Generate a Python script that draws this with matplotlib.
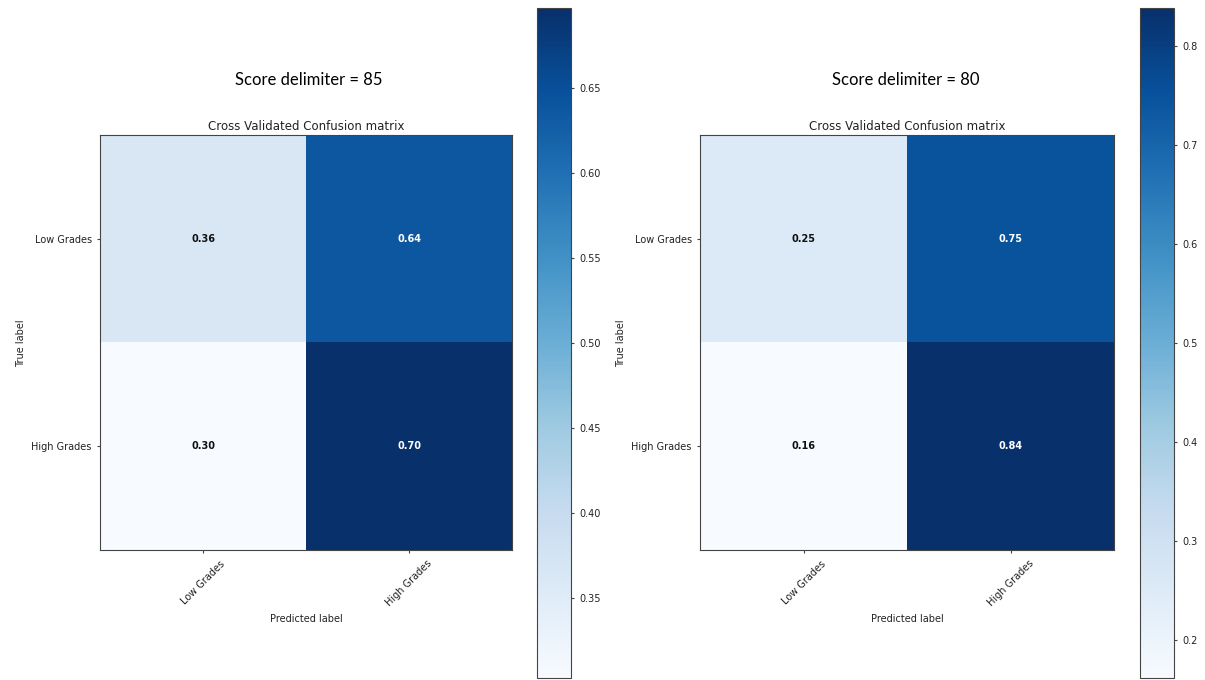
import matplotlib
matplotlib.use("Agg")
import matplotlib.pyplot as plt
import numpy as np

classes = ["Low Grades", "High Grades"]
delimiters = [85, 80]
# normalised confusion matrices (rows sum to 1), shown rounded to 2 decimals
cm_85 = np.array([[0.362, 0.638],
                  [0.303, 0.697]])
cm_80 = np.array([[0.252, 0.748],
                  [0.162, 0.838]])
matrices = [cm_85, cm_80]

fig = plt.figure(figsize=(12.05, 6.8), dpi=100)

ax_pos = [[0.083, 0.191, 0.342, 0.610], [0.581, 0.191, 0.3436, 0.610]]
cb_pos = [[0.4456, 0.003, 0.028, 0.985], [0.946, 0.003, 0.028, 0.985]]
title_x = [0.256, 0.752]
edge = "#444444"

for k in range(2):
    cm = matrices[k]
    ax = fig.add_axes(ax_pos[k])
    im = ax.imshow(cm, interpolation="nearest", cmap=plt.cm.Blues,
                   vmin=cm.min(), vmax=cm.max(), aspect="auto")
    ax.set_title("Cross Validated Confusion matrix", fontsize=8.5, pad=4,
                 color="#222222")
    ticks = np.arange(len(classes))
    ax.set_xticks(ticks)
    ax.set_xticklabels(classes, rotation=45, fontsize=7)
    ax.set_yticks(ticks)
    ax.set_yticklabels(classes, fontsize=7)
    ax.tick_params(length=2.5, color=edge, labelcolor="#222222")
    ax.set_ylabel("True label", fontsize=7, color="#222222")
    ax.set_xlabel("Predicted label", fontsize=7, color="#222222")
    for s in ax.spines.values():
        s.set_edgecolor(edge)
    for i in range(cm.shape[0]):
        for j in range(cm.shape[1]):
            ax.text(j, i, "%.2f" % cm[i, j], ha="center", va="center",
                    fontsize=7, fontweight="bold",
                    color="white" if cm[i, j] > 0.5 else "#111111")
    cax = fig.add_axes(cb_pos[k])
    cb = fig.colorbar(im, cax=cax)
    cb.ax.tick_params(labelsize=7, length=2.5, color=edge, labelcolor="#222222")
    cb.outline.set_edgecolor(edge)

    fig.text(title_x[k], 0.882, "Score delimiter = %d" % delimiters[k],
             ha="center", va="center", fontsize=12, family="Lato")

fig.savefig("out.png", dpi=100)
